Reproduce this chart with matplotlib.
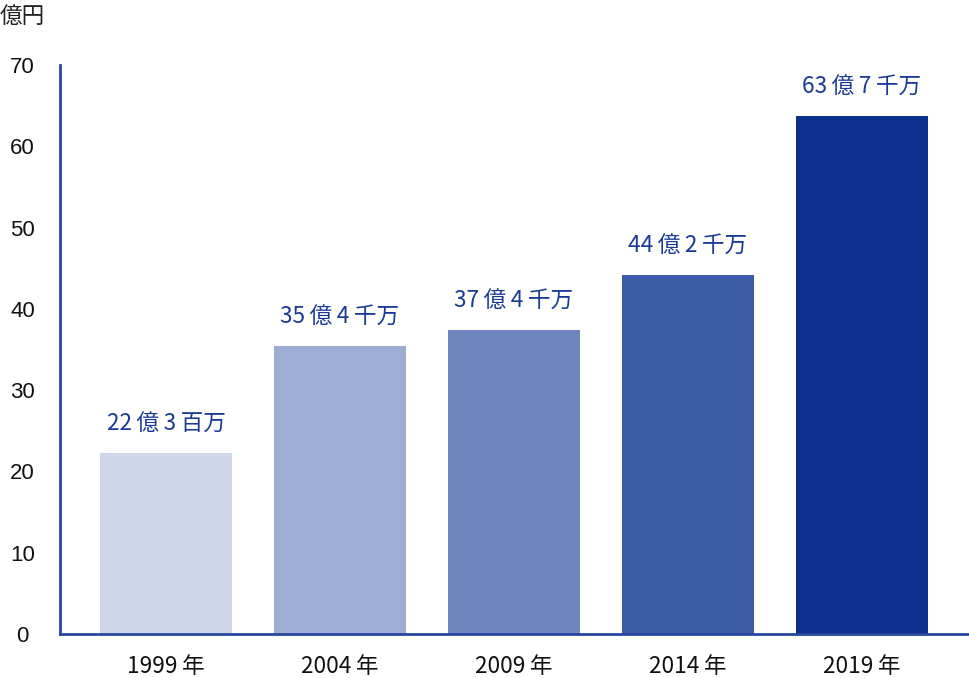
import matplotlib
matplotlib.use("Agg")
import matplotlib.pyplot as plt

years = ["1999\u2009年", "2004\u2009年", "2009\u2009年", "2014\u2009年", "2019\u2009年"]
values = [22.3, 35.4, 37.4, 44.2, 63.7]
labels = ["22\u2009億\u20093\u2009百万", "35\u2009億\u20094\u2009千万", "37\u2009億\u20094\u2009千万",
          "44\u2009億\u20092\u2009千万", "63\u2009億\u20097\u2009千万"]
colors = ["#D0D6E9", "#9EADD4", "#6F85BD", "#3C5BA8", "#0B2F8A"]
yticks = [0, 10, 20, 30, 40, 50, 60, 70]

CJK = ["Noto Sans CJK JP", "DejaVu Sans"]
plt.rcParams["font.family"] = CJK

fig = plt.figure(figsize=(9.69, 6.78), dpi=100)
ax = fig.add_axes([60 / 969, 44 / 678, 908 / 969, 569 / 678])

x = list(range(len(years)))
ax.bar(x, values, width=0.76, color=colors, zorder=2)
for xi, v, lab in zip(x, values, labels):
    ax.text(xi, v + 2.1, lab, ha="center", va="bottom", fontsize=16.3,
            color="#1A3A97", family=CJK)

ax.set_xlim(-0.61, 4.61)
ax.set_ylim(0, 70)
ax.set_yticks(yticks)
ax.set_yticklabels([str(t) for t in yticks], family=["Liberation Sans", "DejaVu Sans"],
                   fontsize=16, ha="center", color="#111111")
ax.set_xticks(x)
ax.set_xticklabels(years, fontsize=16.3, family=CJK, color="#111111")
ax.tick_params(axis="both", length=0)
ax.tick_params(axis="y", pad=27)
ax.tick_params(axis="x", pad=15)

for s in ["top", "right"]:
    ax.spines[s].set_visible(False)
for s in ["left", "bottom"]:
    ax.spines[s].set_color("#2747A0")
    ax.spines[s].set_linewidth(2)

fig.text(0 / 969, 1 - 16 / 678, "億円", ha="left", va="center", fontsize=16.3,
         family=CJK, color="#222222")

fig.savefig("out.png", dpi=100)
